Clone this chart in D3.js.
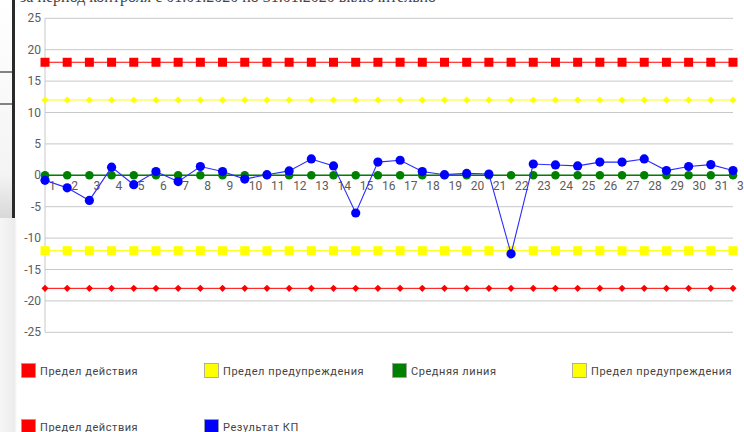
<!DOCTYPE html>
<html>
<head>
<meta charset="utf-8">
<script src="https://cdn.jsdelivr.net/npm/d3@7"></script>
<style>
  body { margin: 0; background: #fff; }
  svg { display: block; }
</style>
</head>
<body>
<div id="chart"></div>
<script>
// categories (days) and y tick labels
const days = ['1','2','3','4','5','6','7','8','9','10','11','12','13','14','15','16',
              '17','18','19','20','21','22','23','24','25','26','27','28','29','30','31','32'];
const yTicks = [25, 20, 15, 10, 5, 0, -5, -10, -15, -20, -25];

// series
const actionUpper = [18,18,18,18,18,18,18,18,18,18,18,18,18,18,18,18,18,18,18,18,18,18,18,18,18,18,18,18,18,18,18,18];
const warnUpper   = [12,12,12,12,12,12,12,12,12,12,12,12,12,12,12,12,12,12,12,12,12,12,12,12,12,12,12,12,12,12,12,12];
const centerLine  = [0,0,0,0,0,0,0,0,0,0,0,0,0,0,0,0,0,0,0,0,0,0,0,0,0,0,0,0,0,0,0,0];
const warnLower   = [-12,-12,-12,-12,-12,-12,-12,-12,-12,-12,-12,-12,-12,-12,-12,-12,-12,-12,-12,-12,-12,-12,-12,-12,-12,-12,-12,-12,-12,-12,-12,-12];
const actionLower = [-18,-18,-18,-18,-18,-18,-18,-18,-18,-18,-18,-18,-18,-18,-18,-18,-18,-18,-18,-18,-18,-18,-18,-18,-18,-18,-18,-18,-18,-18,-18,-18];
const result = [-0.8,-2.0,-4.0,1.3,-1.5,0.6,-1.0,1.4,0.6,-0.6,0.1,0.7,2.6,1.5,-6.0,2.1,
                2.4,0.6,0.1,0.3,0.2,-12.5,1.8,1.65,1.5,2.1,2.1,2.6,0.75,1.4,1.7,0.75];

const legendNames = ['Предел действия','Предел предупреждения','Средняя линия','Предел предупреждения','Предел действия','Результат КП'];
const legendColors = ['#ff0000','#ffff00','#008000','#ffff00','#ff0000','#0000ff'];

const W = 744, H = 432;
const svg = d3.select('#chart').append('svg').attr('width', W).attr('height', H);

// window edge leftovers from the screenshot
const defs = svg.append('defs');
const g1 = defs.append('linearGradient').attr('id', 'leftPanel').attr('x1', 0).attr('y1', 0).attr('x2', 0).attr('y2', 1);
g1.append('stop').attr('offset', '0%').attr('stop-color', '#ffffff');
g1.append('stop').attr('offset', '80%').attr('stop-color', '#f4f4f4');
g1.append('stop').attr('offset', '100%').attr('stop-color', '#d8d8d8');
const g2 = defs.append('linearGradient').attr('id', 'shadow').attr('x1', 0).attr('y1', 0).attr('x2', 1).attr('y2', 0);
g2.append('stop').attr('offset', '0%').attr('stop-color', '#f6f6f6');
g2.append('stop').attr('offset', '85%').attr('stop-color', '#ececec');
g2.append('stop').attr('offset', '100%').attr('stop-color', '#ffffff');

svg.append('rect').attr('x', 0).attr('y', 0).attr('width', 12).attr('height', 218).attr('fill', 'url(#leftPanel)');
svg.append('rect').attr('x', 0).attr('y', 218).attr('width', 17).attr('height', H - 218).attr('fill', 'url(#shadow)');
svg.append('rect').attr('x', 12).attr('y', 0).attr('width', 3).attr('height', 218).attr('fill', '#2a2a2a');
svg.append('line').attr('x1', 0).attr('x2', 12).attr('y1', 72).attr('y2', 72).attr('stroke', '#333').attr('stroke-width', 1.2);
svg.append('line').attr('x1', 0).attr('x2', 12).attr('y1', 104).attr('y2', 104).attr('stroke', '#333').attr('stroke-width', 1.2);

// title, cut off at the top
svg.append('text')
    .attr('x', 20).attr('y', 2)
    .attr('font-family', 'Liberation Serif, serif')
    .attr('font-size', 16)
    .attr('fill', '#444')
    .text('за период контроля с 01.01.2020 по 31.01.2020 включительно');

const x = d3.scalePoint().domain(days).range([45, 733]);
const y = d3.scaleLinear().domain([-25, 25]).range([332.3, 18.3]);

// grid
svg.append('g')
    .selectAll('line')
    .data(yTicks)
    .enter()
    .append('line')
    .attr('x1', 45).attr('x2', 733)
    .attr('y1', d => y(d)).attr('y2', d => y(d))
    .attr('stroke', '#c8c8c8')
    .attr('stroke-width', 1);

svg.append('line')
    .attr('x1', 45).attr('x2', 45)
    .attr('y1', y(25)).attr('y2', y(-25))
    .attr('stroke', '#c8c8c8');

svg.append('g')
    .selectAll('text')
    .data(yTicks)
    .enter()
    .append('text')
    .attr('x', 41)
    .attr('y', d => y(d) + 4)
    .attr('text-anchor', 'end')
    .attr('font-family', 'Roboto, sans-serif')
    .attr('font-size', 12)
    .attr('fill', '#5c5c5c')
    .text(d => d);

let drawSeries = function (values, color, width, marker) {
    const pts = days.map((d, i) => [x(d), y(values[i])]);
    svg.append('path')
        .attr('d', d3.line()(pts))
        .attr('fill', 'none')
        .attr('stroke', color)
        .attr('stroke-width', width);
    const m = svg.append('g').selectAll('path').data(pts).enter();
    if (marker === 'circle') {
        m.append('circle')
            .attr('cx', d => d[0]).attr('cy', d => d[1])
            .attr('r', 4.3)
            .attr('fill', color);
    } else if (marker === 'square') {
        m.append('path')
            .attr('d', d3.symbol().type(d3.symbolSquare).size(81))
            .attr('transform', d => 'translate(' + d[0] + ',' + d[1] + ')')
            .attr('fill', color);
    } else {
        m.append('path')
            .attr('d', d3.symbol().type(d3.symbolSquare).size(25))
            .attr('transform', d => 'translate(' + d[0] + ',' + d[1] + ') rotate(45)')
            .attr('fill', color);
    }
}

drawSeries(actionUpper, '#ff0000', 1, 'square');
drawSeries(warnUpper, '#ffff00', 1, 'diamond');
drawSeries(warnLower, '#ffff00', 1, 'square');
drawSeries(actionLower, '#ff0000', 1, 'diamond');
drawSeries(centerLine, '#008000', 1.5, 'circle');

// x labels near zero line
svg.append('g')
    .selectAll('text')
    .data(days)
    .enter()
    .append('text')
    .attr('x', d => x(d) + 4)
    .attr('y', y(0) + 15)
    .attr('font-family', 'Roboto, sans-serif')
    .attr('font-size', 12)
    .attr('fill', '#5c5c5c')
    .text(d => d);

drawSeries(result, '#2b2bff', 1.1, 'circle');
svg.selectAll('circle').filter(function () { return d3.select(this).attr('fill') === '#2b2bff'; })
    .attr('fill', '#0000ff').attr('r', 4.6);

// legend
const legendPos = [[21, 371], [204, 371], [392, 371], [572, 371], [21, 427], [204, 427]];
const leg = svg.append('g')
    .selectAll('g')
    .data(legendNames)
    .enter()
    .append('g')
    .attr('transform', (d, i) => 'translate(' + legendPos[i][0] + ',' + legendPos[i][1] + ')');

leg.append('rect')
    .attr('x', 0.5).attr('y', -7.5)
    .attr('width', 14).attr('height', 14)
    .attr('fill', (d, i) => legendColors[i])
    .attr('stroke', '#a0a0a0')
    .attr('stroke-width', 0.8);

leg.append('text')
    .attr('x', 19).attr('y', 4)
    .attr('font-family', 'Roboto, sans-serif')
    .attr('font-size', 11)
    .attr('letter-spacing', 0.55)
    .attr('fill', '#444')
    .text(d => d);
</script>
</body>
</html>
